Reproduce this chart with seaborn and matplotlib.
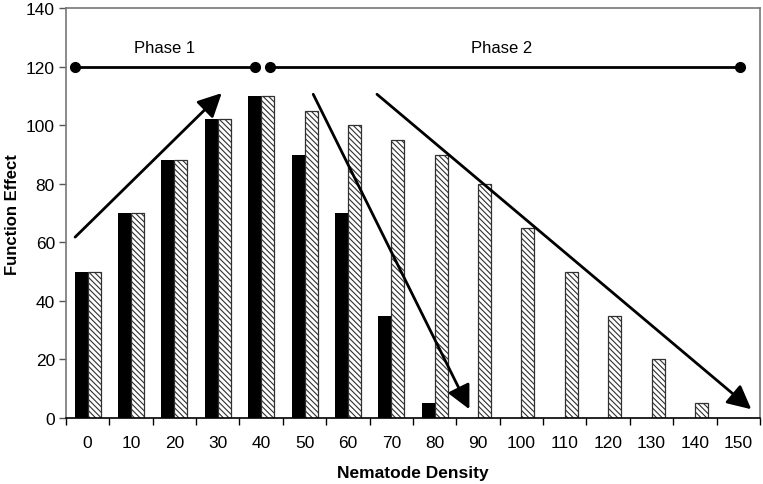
import matplotlib
matplotlib.use("Agg")
import matplotlib.pyplot as plt
import seaborn as sns
import pandas as pd
import numpy as np

densities = [0, 10, 20, 30, 40, 50, 60, 70, 80, 90, 100, 110, 120, 130, 140, 150]
series_a = [50, 70, 88, 102, 110, 90, 70, 35, 5, 0, 0, 0, 0, 0, 0, 0]
series_b = [50, 70, 88, 102, 110, 105, 100, 95, 90, 80, 65, 50, 35, 20, 5, 0]
y_ticks = [0, 20, 40, 60, 80, 100, 120, 140]

df = pd.DataFrame({
    "density": [str(d) for d in densities] * 2,
    "effect": series_a + series_b,
    "series": ["A"] * len(densities) + ["B"] * len(densities),
})

sns.set_theme(style="white")
plt.rcParams["font.family"] = ["Liberation Sans", "DejaVu Sans"]
plt.rcParams["hatch.linewidth"] = 0.8
plt.rcParams["text.color"] = "black"
plt.rcParams["axes.labelcolor"] = "black"
plt.rcParams["xtick.labelcolor"] = "black"
plt.rcParams["ytick.labelcolor"] = "black"

fig = plt.figure(figsize=(7.63, 4.85), dpi=100)
ax = fig.add_axes([0.0865, 0.136, 0.9095, 0.845])

sns.barplot(data=df, x="density", y="effect", hue="series",
            palette={"A": "black", "B": "white"}, width=0.6, ax=ax,
            legend=False, saturation=1, errorbar=None)

for p in ax.containers[0]:
    p.set_linewidth(0)
for p in ax.containers[1]:
    p.set_hatch("\\" * 6)
    p.set_edgecolor("#303030")
    p.set_linewidth(0.9)

ax.set_xlim(-0.5, len(densities) - 0.5)
ax.set_ylim(0, 140)
ax.set_yticks(y_ticks)
ax.set_yticklabels([str(t) for t in y_ticks], fontsize=12.5, color="black")
ax.set_xticks(range(len(densities)))
ax.set_xticklabels([str(d) for d in densities], fontsize=12.5, color="black")
ax.tick_params(axis="x", which="major", length=0, pad=12)
ax.set_xticks(np.arange(-0.5, len(densities), 1), minor=True)
ax.tick_params(axis="x", which="minor", length=5, width=1, color="black", direction="out", bottom=True)
ax.tick_params(axis="y", length=5, width=1, color="#555555", direction="out", left=True, pad=3)

for side in ["top", "right", "left"]:
    ax.spines[side].set_color("#777777")
    ax.spines[side].set_linewidth(1.2)
ax.spines["bottom"].set_color("black")
ax.spines["bottom"].set_linewidth(1.2)

ax.set_xlabel("Nematode Density", fontsize=12.5, fontweight="bold", labelpad=11, color="black")
ax.set_ylabel("Function Effect", fontsize=12, fontweight="bold", labelpad=4, color="black")

# Phase lines
ax.plot([-0.3, 3.85], [120, 120], color="black", lw=2, marker="o", ms=7)
ax.plot([4.2, 15.03], [120, 120], color="black", lw=2, marker="o", ms=7)
ax.text(1.78, 124, "Phase 1", ha="center", va="bottom", fontsize=12, color="black")
ax.text(9.55, 124, "Phase 2", ha="center", va="bottom", fontsize=12, color="black")

# Trend arrows
arrow_kw = dict(arrowstyle="-|>,head_length=0.9,head_width=0.45", color="black", lw=2,
                shrinkA=0, shrinkB=0, mutation_scale=16)
ax.annotate("", xy=(3.09, 111), xytext=(-0.29, 61.8), arrowprops=arrow_kw)
ax.annotate("", xy=(8.8, 3), xytext=(5.2, 110.6), arrowprops=arrow_kw)
ax.annotate("", xy=(15.3, 3), xytext=(6.67, 110.6), arrowprops=arrow_kw)

fig.savefig("out.png", dpi=100)
